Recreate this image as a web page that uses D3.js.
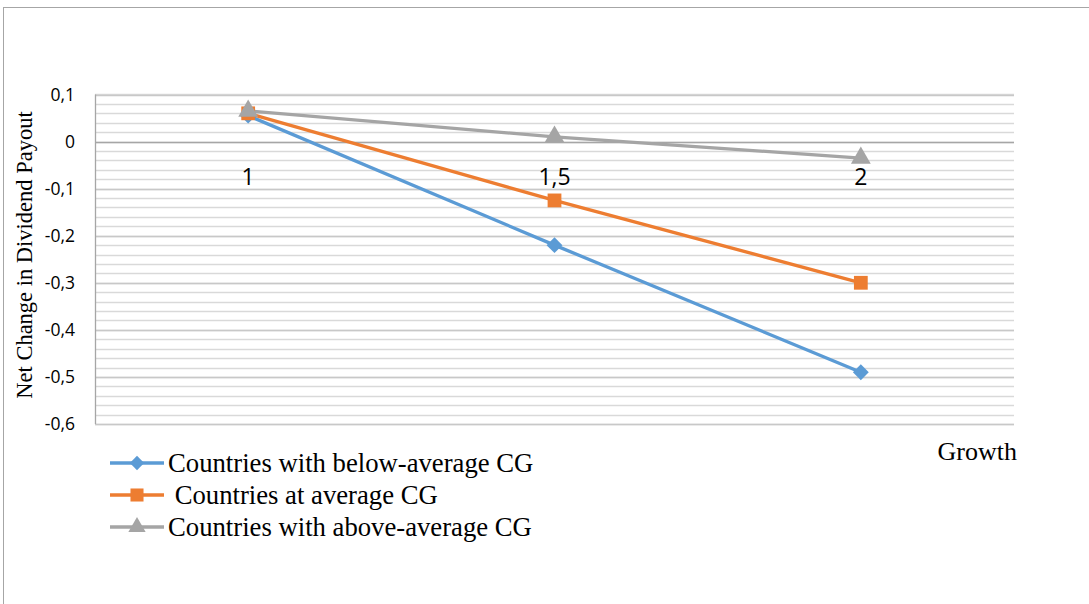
<!DOCTYPE html>
<html>
<head>
<meta charset="utf-8">
<script src="https://cdn.jsdelivr.net/npm/d3@7"></script>
<style>
  html, body { margin: 0; padding: 0; background: #fff; }
  svg { display: block; }
</style>
</head>
<body>
<svg id="chart" width="1089" height="604"></svg>
<script>
const categories = ["1", "1,5", "2"];
const seriesNames = ["Countries with below-average CG", " Countries at average CG", "Countries with above-average CG"];
const belowAvg = [0.055, -0.22, -0.49];
const atAvg = [0.06, -0.125, -0.30];
const aboveAvg = [0.065, 0.01, -0.035];
const yTicks = [0.1, 0, -0.1, -0.2, -0.3, -0.4, -0.5, -0.6];
const yTickLabels = ["0,1", "0", "-0,1", "-0,2", "-0,3", "-0,4", "-0,5", "-0,6"];
const xTitle = "Growth";
const yTitle = "Net Change in Dividend Payout";

const colors = ["#5B9BD5", "#ED7D31", "#A5A5A5"];
const shapes = [d3.symbolDiamond2 || d3.symbolDiamond, d3.symbolSquare, d3.symbolTriangle];
const series = [belowAvg, atAvg, aboveAvg];

const svg = d3.select("#chart");

// outer border
svg.append("rect").attr("x", 3.5).attr("y", 7.5).attr("width", 1100).attr("height", 700)
  .attr("fill", "none").attr("stroke", "#a6a6a6").attr("stroke-width", 1);

const pLeft = 95, pRight = 1014, pTop = 94.5, pBottom = 424;
const x = d3.scaleBand().domain(categories).range([pLeft, pRight]);
const y = d3.scaleLinear().domain([-0.6, 0.1]).range([pBottom, pTop]);

// minor gridlines
const minor = d3.range(-0.6, 0.1001, 0.02);
svg.append("g").selectAll("line").data(minor).join("line")
  .attr("x1", pLeft).attr("x2", pRight)
  .attr("y1", d => Math.round(y(d)) + 0.5).attr("y2", d => Math.round(y(d)) + 0.5)
  .attr("stroke", "#d9d9d9").attr("stroke-width", 1.3);
// major gridlines
svg.append("g").selectAll("line").data(yTicks).join("line")
  .attr("x1", pLeft).attr("x2", pRight)
  .attr("y1", d => Math.round(y(d)) + 0.5).attr("y2", d => Math.round(y(d)) + 0.5)
  .attr("stroke", d => d === 0 ? "#a6a6a6" : "#c8c8c8").attr("stroke-width", 1.3);

// y axis line
svg.append("line").attr("x1", pLeft + 0.5).attr("x2", pLeft + 0.5).attr("y1", pTop).attr("y2", pBottom)
  .attr("stroke", "#a6a6a6").attr("stroke-width", 1.3);

// y axis tick labels
const yAxis = d3.axisLeft(y).tickValues(yTicks).tickSize(0).tickPadding(20)
  .tickFormat((d, i) => yTickLabels[i]);
const gy = svg.append("g").attr("transform", `translate(${pLeft},0)`).call(yAxis);
gy.select(".domain").remove();
gy.selectAll("text").attr("font-family", "Open Sans, sans-serif").attr("font-size", 17.5).attr("fill", "#000");

// x axis labels (at the zero line)
const xAxis = d3.axisBottom(x).tickSize(0).tickPadding(27);
const gx = svg.append("g").attr("transform", `translate(0,${y(0)})`).call(xAxis);
gx.select(".domain").remove();
gx.selectAll("text").attr("font-family", "Open Sans, sans-serif").attr("font-size", 23).attr("fill", "#000");

// lines and markers
const line = d3.line().x((d, i) => x(categories[i]) + x.bandwidth() / 2).y(d => y(d));
series.forEach((s, k) => {
  svg.append("path").datum(s).attr("d", line).attr("fill", "none")
    .attr("stroke", colors[k]).attr("stroke-width", 3.3).attr("stroke-linejoin", "round");
});
series.forEach((s, k) => {
  const sizes = [160, 190, 170];
  svg.append("g").selectAll("path").data(s).join("path")
    .attr("d", d3.symbol().type(shapes[k]).size(sizes[k]))
    .attr("transform", (d, i) => `translate(${x(categories[i]) + x.bandwidth() / 2},${y(d)})`)
    .attr("fill", colors[k]);
});

// axis titles
svg.append("text").attr("x", 1017).attr("y", 460).attr("text-anchor", "end")
  .attr("font-family", "Liberation Serif, Times New Roman, serif").attr("font-size", 26).text(xTitle);
svg.append("text").attr("transform", "translate(32,255) rotate(-90)").attr("text-anchor", "middle")
  .attr("font-family", "Liberation Serif, Times New Roman, serif").attr("font-size", 22.5).text(yTitle);

// legend
const legY = [463, 495, 527];
seriesNames.forEach((name, k) => {
  const g = svg.append("g");
  g.append("line").attr("x1", 110).attr("x2", 164).attr("y1", legY[k]).attr("y2", legY[k])
    .attr("stroke", colors[k]).attr("stroke-width", 3.3);
  g.append("path").attr("d", d3.symbol().type(shapes[k]).size([130, 170, 130][k]))
    .attr("transform", `translate(137,${legY[k]})`).attr("fill", colors[k]);
  g.append("text").attr("x", 168).attr("y", legY[k] + 9)
    .style("white-space", "pre")
    .attr("font-family", "Liberation Serif, Times New Roman, serif").attr("font-size", 26.7).text(name);
});
</script>
</body>
</html>
